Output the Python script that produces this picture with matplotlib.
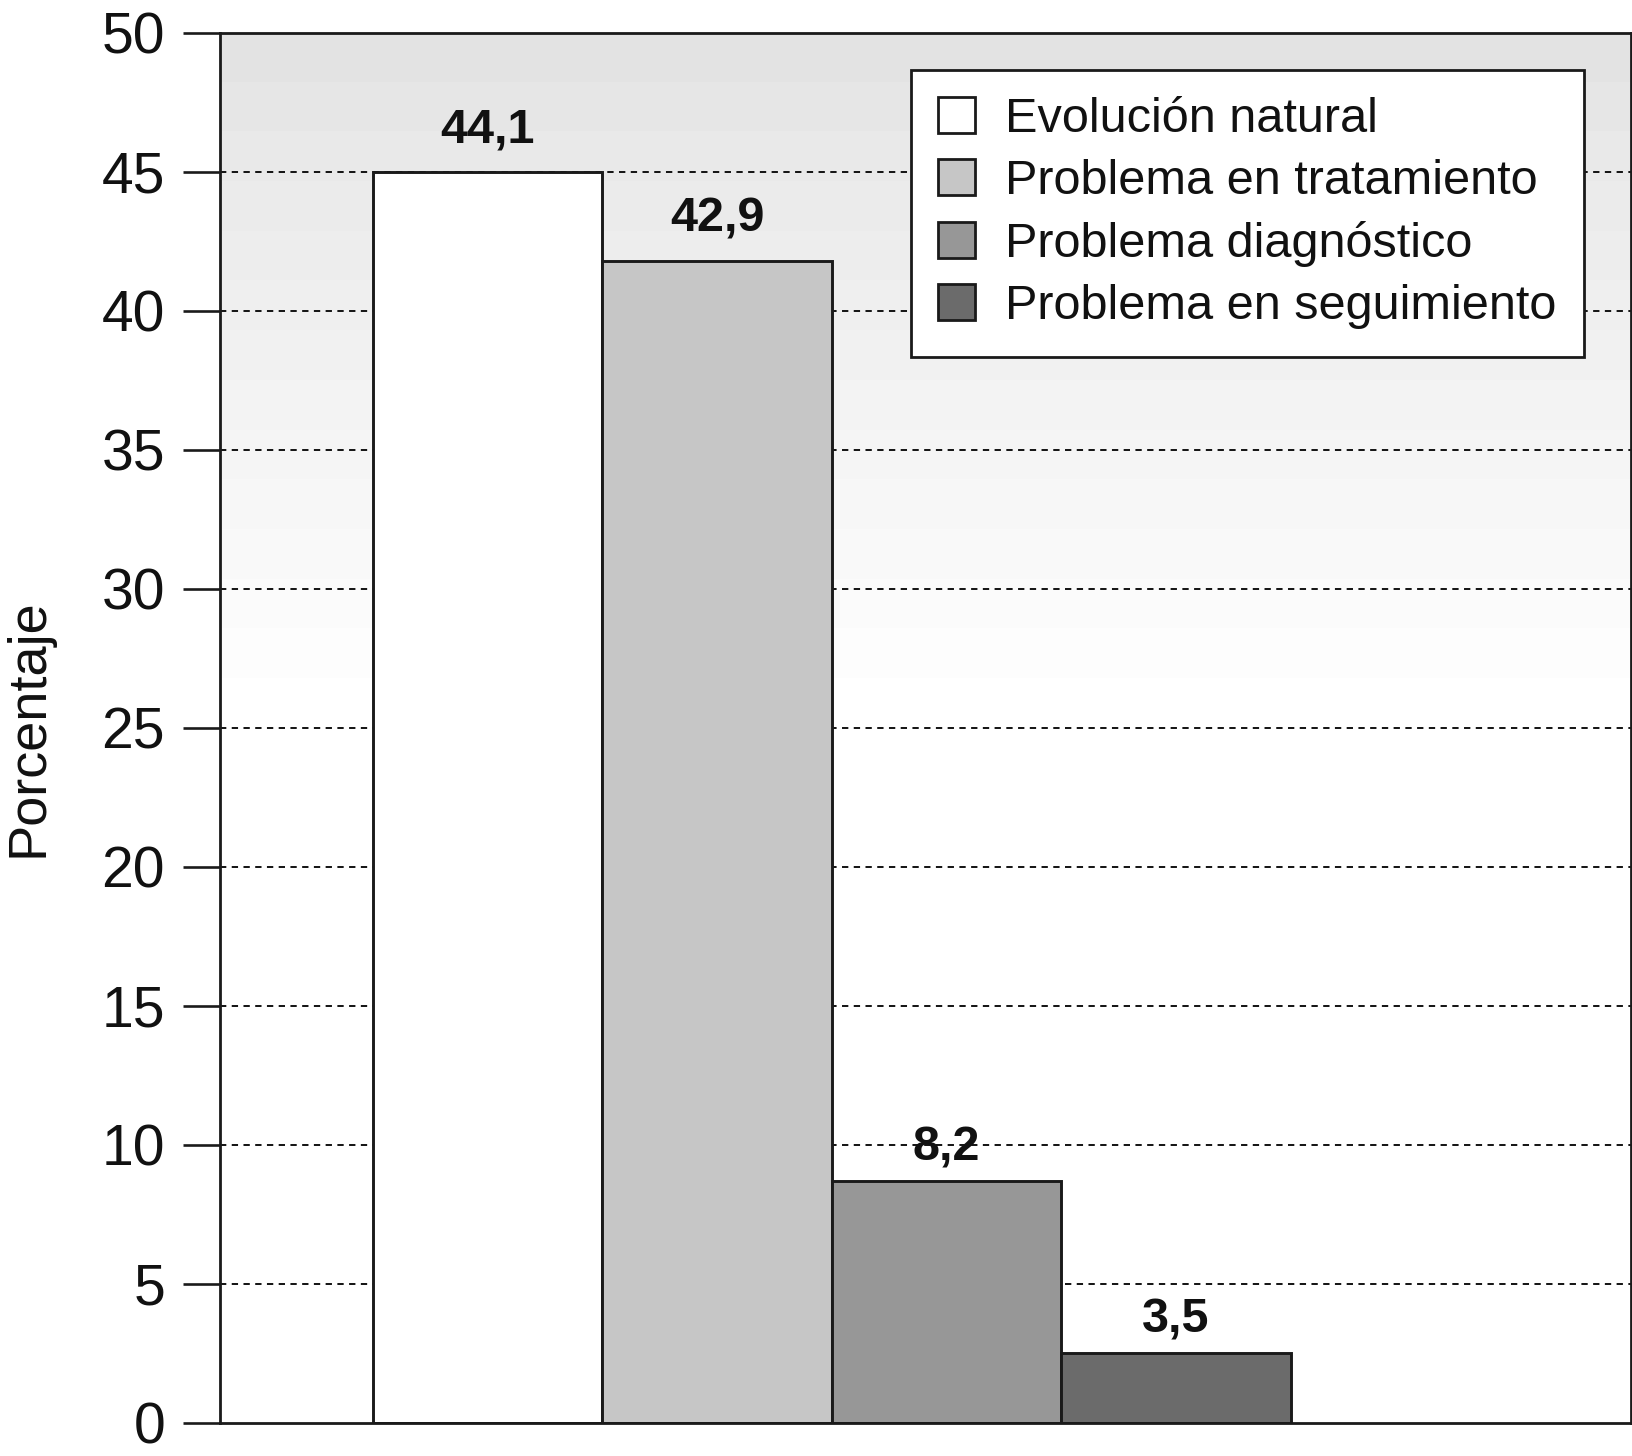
import numpy as np
import matplotlib.pyplot as plt
from matplotlib.patches import Patch

plt.rcParams['font.family'] = ['Liberation Sans', 'DejaVu Sans']

# categories and values
categories = ['Evolución natural', 'Problema en tratamiento',
              'Problema diagnóstico', 'Problema en seguimiento']
bar_heights = [45.0, 41.8, 8.7, 2.5]      # heights as drawn
bar_labels = ['44,1', '42,9', '8,2', '3,5']  # numbers printed above bars
yticks = [0, 5, 10, 15, 20, 25, 30, 35, 40, 45, 50]

colors = ['#ffffff', '#c6c6c6', '#979797', '#6b6b6b']
label_offsets = [30, 30, 24, 24]  # points above bar top

fig = plt.figure(figsize=(16.33, 14.56), dpi=100)
ax = fig.add_axes([0.1347, 0.0227, 0.864, 0.9547])

x = np.arange(len(categories))
ax.set_xlim(-1.167, 4.983)
ax.set_ylim(0, 50)

# background gradient: light gray at the top fading to white around 25
grad = np.linspace(228, 255, 14)[:, None] / 255.0
ax.imshow(grad, cmap='gray', vmin=0, vmax=1, aspect='auto', origin='upper',
          extent=[-1.167, 4.983, 25, 50], interpolation='nearest', zorder=0)
ax.set_facecolor('white')

for yv in yticks[1:-1]:
    ax.axhline(yv, color='black', linestyle=(0, (3.5, 3)), linewidth=1.3, zorder=1)

bars = ax.bar(x, bar_heights, width=1.0, color=colors, edgecolor='#1a1a1a',
              linewidth=2.1, zorder=2)

for xi, h, lab, off in zip(x, bar_heights, bar_labels, label_offsets):
    ax.annotate(lab, (xi, h), xytext=(0, off), textcoords='offset points',
                ha='center', va='center', fontsize=35, fontweight='bold',
                color='#111111', zorder=3)

ax.set_yticks(yticks)
ax.set_xticks([])
ax.tick_params(axis='y', direction='out', length=26.5, width=1.9, pad=13,
               labelsize=41, color='#1a1a1a', labelcolor='#111111')
for sp in ax.spines.values():
    sp.set_linewidth(2.0)
    sp.set_color('#1a1a1a')
    sp.set_zorder(4)

ax.set_ylabel('Porcentaje', fontsize=39, color='#111111')
ax.yaxis.label.set_verticalalignment('center')
ax.yaxis.set_label_coords(-0.1354, 0.5)

handles = [Patch(facecolor=c, edgecolor='#1a1a1a', linewidth=2.0) for c in colors]
leg = ax.legend(handles, categories, loc='upper right',
                bbox_to_anchor=(0.9667, 0.9734), borderaxespad=0,
                fontsize=35, frameon=True, fancybox=False, shadow=False,
                handlelength=0.77, handleheight=0.77, handletextpad=0.62,
                labelspacing=0.35, borderpad=0.56, framealpha=1)
leg.get_frame().set_edgecolor('#1a1a1a')
leg.get_frame().set_linewidth(2.0)
leg.set_zorder(5)
for t in leg.get_texts():
    t.set_color('#111111')

fig.savefig('out.png', dpi=100)
